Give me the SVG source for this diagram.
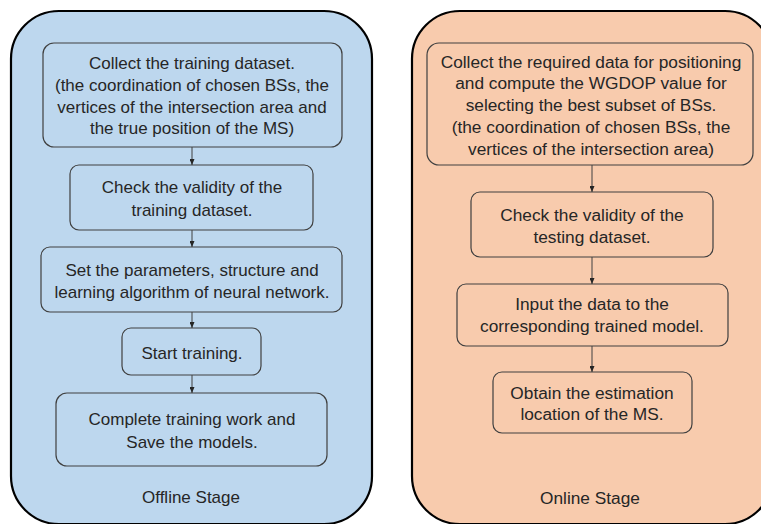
<svg xmlns="http://www.w3.org/2000/svg" width="761" height="524" viewBox="0 0 761 524">
<defs>
<marker id="arr" markerWidth="6" markerHeight="5" refX="6" refY="2.5" orient="auto" markerUnits="userSpaceOnUse">
<path d="M0,0 L6,2.5 L0,5 Z" fill="#262626"/>
</marker>
<style>
.stage{stroke:#000;stroke-width:2.2}
.blue{fill:#BDD7EE}
.peach{fill:#F8CBAD}
.node{stroke:#404040;stroke-width:1.2}
text{font-family:"Liberation Sans",Arial,sans-serif;font-size:17px;fill:#262626;text-anchor:middle}
.r text{font-size:17.3px}
.conn line{stroke:#404040;stroke-width:1;marker-end:url(#arr)}
</style>
</defs>
<rect width="761" height="524" fill="#fff"/>
<g id="offline-stage">
<rect class="stage blue" x="11" y="11" width="361" height="513" rx="48"/>
<text x="191" y="503">Offline Stage</text>
</g>
<g id="online-stage" class="r">
<rect class="stage peach" x="412" y="11" width="361" height="513" rx="48"/>
<text x="590" y="504">Online Stage</text>
</g>
<g id="n1">
<rect class="node blue" x="43" y="43" width="299" height="104" rx="11"/>
<text x="192" y="69">Collect the training dataset.</text>
<text x="192" y="91">(the coordination of chosen BSs, the</text>
<text x="192" y="113">vertices of the intersection area and</text>
<text x="192" y="134">the true position of the MS)</text>
</g>
<g id="n2">
<rect class="node blue" x="70" y="165" width="243" height="65" rx="9"/>
<text x="192" y="193">Check the validity of the</text>
<text x="192" y="216">training dataset.</text>
</g>
<g id="n3">
<rect class="node blue" x="41" y="247" width="301" height="65" rx="9"/>
<text x="192" y="276">Set the parameters, structure and</text>
<text x="192" y="298">learning algorithm of neural network.</text>
</g>
<g id="n4">
<rect class="node blue" x="122" y="328" width="139" height="47" rx="9"/>
<text x="192" y="359">Start training.</text>
</g>
<g id="n5">
<rect class="node blue" x="56" y="393" width="271" height="73" rx="11"/>
<text x="192" y="425">Complete training work and</text>
<text x="192" y="448">Save the models.</text>
</g>
<g id="m1" class="r">
<rect class="node peach" x="427" y="43" width="326" height="122" rx="12"/>
<text x="591" y="68">Collect the required data for positioning</text>
<text x="591" y="89">and compute the WGDOP value for</text>
<text x="591" y="111">selecting the best subset of BSs.</text>
<text x="591" y="133">(the coordination of chosen BSs, the</text>
<text x="591" y="155">vertices of the intersection area)</text>
</g>
<g id="m2" class="r">
<rect class="node peach" x="471" y="192" width="242" height="65" rx="9"/>
<text x="592" y="221">Check the validity of the</text>
<text x="592" y="243">testing dataset.</text>
</g>
<g id="m3" class="r">
<rect class="node peach" x="457" y="284" width="271" height="62" rx="9"/>
<text x="592" y="310">Input the data to the</text>
<text x="592" y="332">corresponding trained model.</text>
</g>
<g id="m4" class="r">
<rect class="node peach" x="493" y="372" width="199" height="61" rx="9"/>
<text x="592" y="399">Obtain the estimation</text>
<text x="592" y="420">location of the MS.</text>
</g>
<g id="connectors" class="conn">
<line x1="192" y1="147" x2="192" y2="165"/>
<line x1="192" y1="230" x2="192" y2="247"/>
<line x1="192" y1="312" x2="192" y2="328"/>
<line x1="192" y1="375" x2="192" y2="393"/>
<line x1="592" y1="165" x2="592" y2="192"/>
<line x1="592" y1="257" x2="592" y2="284"/>
<line x1="592" y1="346" x2="592" y2="372"/>
</g>
</svg>
